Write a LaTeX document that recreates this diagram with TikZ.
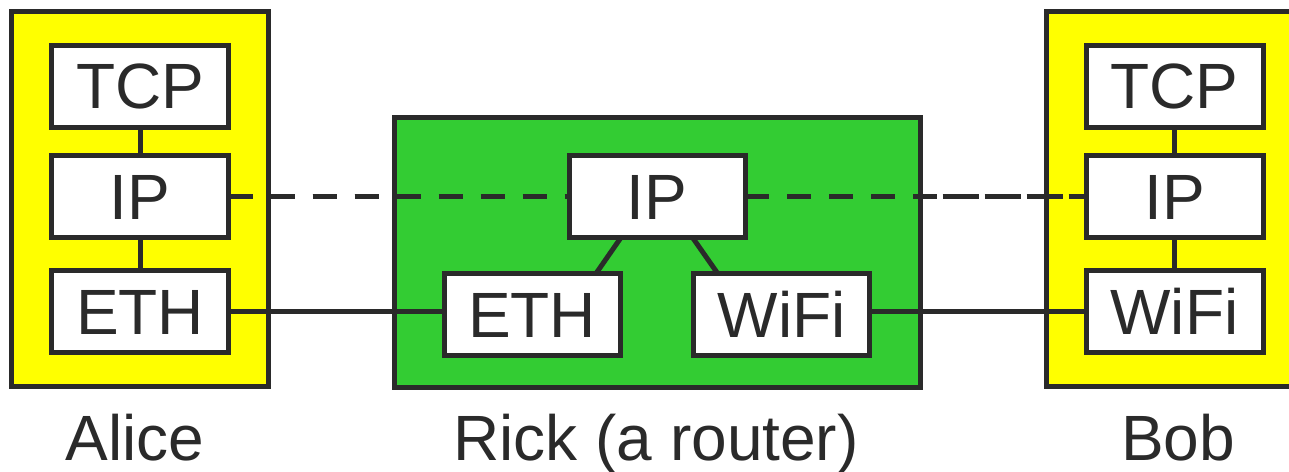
\documentclass[tikz,border=0pt]{standalone}
\usepackage{fontspec}
\setmainfont{Liberation Sans}
\usetikzlibrary{calc}
\definecolor{ink}{RGB}{42,42,42}
\definecolor{hostyellow}{RGB}{255,255,0}
\definecolor{routergreen}{RGB}{51,204,51}
\begin{document}
\begin{tikzpicture}[x=1pt,y=-1pt,
  layer/.style={draw=ink, fill=white, line width=5pt, minimum width=177pt,
    minimum height=82pt, inner sep=0pt, outer sep=0pt, text height=45.8pt,
    text depth=0pt, font=\fontsize{64}{76}\selectfont, text=ink},
  hostbox/.style={draw=ink, fill=hostyellow, line width=5pt, inner sep=0pt,
    outer sep=0pt, minimum width=257pt, minimum height=375pt},
  routerbox/.style={draw=ink, fill=routergreen, line width=5pt, inner sep=0pt,
    outer sep=0pt, minimum width=526pt, minimum height=270pt},
  link/.style={draw=ink, line width=5pt},
  iplink/.style={link, dash pattern=on 24pt off 18pt},
  caption/.style={font=\fontsize{64}{76}\selectfont, text=ink, anchor=base, inner sep=0pt}]
\clip (0,0) rectangle (1289,471);
% hosts
\node[hostbox] (alice) at (139.5,198.5) {};
\node[hostbox] (bob) at (1174.5,198.5) {};
\node[layer] (atcp) at (140,86) {TCP};
\node[layer] (aip) at (140,196.5) {IP};
\node[layer] (aeth) at (140,311.5) {ETH};
\node[layer] (btcp) at (1174.5,86) {TCP};
\node[layer] (bip) at (1174.5,196.5) {IP};
\node[layer] (bwifi) at (1174.5,311.5) {WiFi};
\draw[link] (atcp.south) -- (aip.north);
\draw[link] (aip.south) -- (aeth.north);
\draw[link] (btcp.south) -- (bip.north);
\draw[link] (bip.south) -- (bwifi.north);
% end-to-end IP link (mostly hidden by the router)
\draw[iplink] (aip.east) -- (bip.west);
% router
\node[routerbox] (rick) at (657,252) {};
\node[layer, minimum width=176pt] (rip) at (657,196.5) {IP};
\node[layer, minimum width=176pt] (reth) at (532,314.5) {ETH};
\node[layer, minimum width=176pt] (rwifi) at (781.7,314.5) {WiFi};
\draw[link] ($(rip.south)+(-36,0)$) -- ($(reth.north)+(64,0)$);
\draw[link] ($(rip.south)+(35.5,0)$) -- ($(rwifi.north)+(-64,0)$);
% links
\draw[link] (aeth.east) -- (aeth.east -| reth.west);
\draw[link] (rwifi.east |- bwifi.west) -- (bwifi.west);
\draw[iplink] (aip.east) -- (rip.west);
\draw[iplink] (rip.east) -- (bip.west);
% captions
\node[caption] (alicelabel) at (135,460) {Alice};
\node[caption] (ricklabel) at (656,460) {Rick (a router)};
\node[caption] (boblabel) at (1178,460) {Bob};
\end{tikzpicture}
\end{document}
